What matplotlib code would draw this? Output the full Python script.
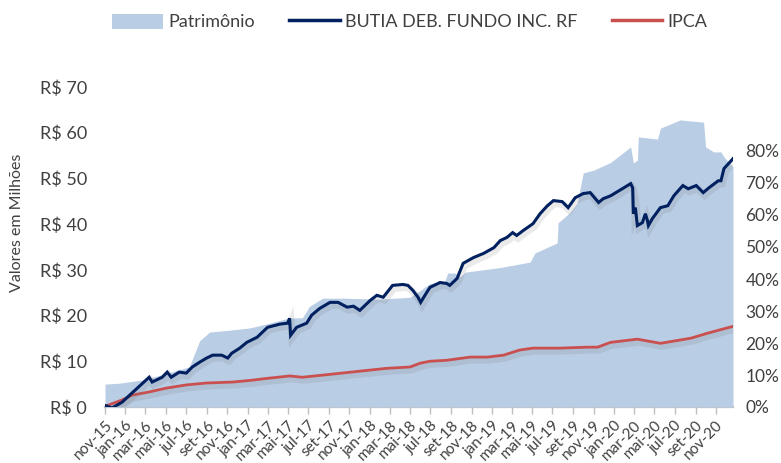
import matplotlib
matplotlib.use("Agg")
import matplotlib.pyplot as plt
import matplotlib.patheffects as pe
from matplotlib.patches import Patch
from matplotlib.lines import Line2D
import pandas as pd

plt.rcParams['font.family'] = ['Lato', 'DejaVu Sans']

# ---------------- data ----------------
patrimonio_dates = [
    "2015-11-01", "2015-12-13", "2016-02-20", "2016-03-12", "2016-05-11",
    "2016-07-10", "2016-07-25", "2016-08-10", "2016-09-09", "2016-11-08",
    "2017-01-07", "2017-02-28", "2017-05-06", "2017-06-13", "2017-07-04",
    "2017-08-13", "2017-10-13", "2018-02-01", "2018-05-01", "2018-06-01",
    "2018-06-30", "2018-08-13", "2018-08-22", "2018-09-13", "2018-09-28",
    "2018-10-13", "2019-01-26", "2019-04-25", "2019-05-10", "2019-07-15",
    "2019-07-18", "2019-08-22", "2019-09-13", "2019-10-01", "2019-11-01",
    "2019-12-22", "2020-02-20", "2020-02-28", "2020-03-11", "2020-03-14",
    "2020-05-10", "2020-05-19", "2020-07-17", "2020-09-25", "2020-10-01",
    "2020-10-25", "2020-11-16", "2020-11-25", "2020-12-22",
]
patrimonio_values = [  # R$ milhões
    5.0, 5.2, 5.9, 6.3, 7.5,
    8.8, 11.5, 14.5, 16.4, 16.8,
    17.3, 18.2, 19.5, 19.5, 22.0,
    23.8, 23.8, 23.6, 24.0, 25.5,
    27.0, 27.5, 29.3, 29.3, 28.5,
    29.5, 30.5, 31.7, 33.7, 35.9,
    40.3, 42.5, 44.6, 51.2, 51.8,
    53.5, 56.9, 53.4, 54.0, 59.1,
    58.6, 61.0, 62.8, 62.3, 56.9,
    55.8, 55.8, 54.7, 52.5,
]

fundo_dates = [
    "2015-11-01", "2015-11-22", "2015-12-22", "2016-01-21", "2016-03-12",
    "2016-03-21", "2016-04-20", "2016-05-05", "2016-05-17", "2016-06-10",
    "2016-07-01", "2016-07-19", "2016-08-10", "2016-08-31", "2016-09-18",
    "2016-10-15", "2016-11-02", "2016-11-14", "2016-12-08", "2016-12-29",
    "2017-01-29", "2017-02-15", "2017-03-01", "2017-04-07", "2017-04-30",
    "2017-05-06", "2017-05-09", "2017-05-27", "2017-06-26", "2017-07-11",
    "2017-08-04", "2017-09-04", "2017-09-28", "2017-10-25", "2017-11-13",
    "2017-12-02", "2018-01-02", "2018-01-22", "2018-02-10", "2018-03-10",
    "2018-04-10", "2018-04-25", "2018-05-10", "2018-05-25", "2018-06-02",
    "2018-06-20", "2018-06-30", "2018-07-30", "2018-08-19", "2018-08-28",
    "2018-09-19", "2018-10-07", "2018-11-07", "2018-12-07", "2019-01-07",
    "2019-01-26", "2019-02-15", "2019-03-04", "2019-03-16", "2019-04-04",
    "2019-05-04", "2019-05-25", "2019-06-16", "2019-07-04", "2019-07-30",
    "2019-08-17", "2019-09-07", "2019-10-01", "2019-10-22", "2019-11-16",
    "2019-11-30", "2019-12-22", "2020-01-21", "2020-02-20", "2020-02-26",
    "2020-02-28", "2020-03-05", "2020-03-11", "2020-03-26", "2020-04-04",
    "2020-04-10", "2020-04-13", "2020-04-25", "2020-05-19", "2020-06-10",
    "2020-06-28", "2020-07-25", "2020-08-10", "2020-09-03", "2020-09-24",
    "2020-10-11", "2020-11-08", "2020-11-16", "2020-11-25", "2020-12-22",
]
fundo_values = [  # rentabilidade acumulada, %
    0.5, -0.3, 1.5, 4.4, 9.3,
    7.8, 9.3, 10.9, 9.3, 10.9,
    10.6, 12.5, 14.0, 15.3, 16.2,
    16.2, 15.3, 16.8, 18.4, 20.2,
    21.8, 23.5, 24.9, 25.9, 26.2,
    27.7, 22.4, 24.9, 26.2, 28.7,
    30.8, 32.7, 32.7, 31.2, 31.5,
    30.2, 33.3, 34.9, 34.3, 38.0,
    38.3, 38.0, 36.4, 34.3, 32.7,
    35.8, 37.4, 38.9, 38.6, 38.0,
    40.2, 44.9, 46.7, 48.0, 49.8,
    52.0, 53.0, 54.5, 53.6, 55.1,
    57.3, 60.4, 62.9, 64.5, 64.2,
    62.3, 65.4, 66.7, 67.0, 63.9,
    65.1, 66.0, 67.9, 69.8, 68.5,
    60.4, 62.3, 56.7, 57.6, 60.4,
    58.3, 56.7, 58.9, 62.3, 62.9,
    66.0, 69.2, 68.2, 69.2, 67.0,
    68.5, 70.7, 70.7, 74.5, 77.6,
]

ipca_dates = [
    "2015-11-01", "2015-12-22", "2016-01-21", "2016-03-12", "2016-05-02",
    "2016-07-01", "2016-08-31", "2016-11-17", "2017-01-16", "2017-02-24",
    "2017-05-06", "2017-06-13", "2017-09-13", "2017-12-02", "2018-02-22",
    "2018-05-01", "2018-06-01", "2018-06-30", "2018-08-19", "2018-10-28",
    "2018-12-19", "2019-02-05", "2019-03-25", "2019-05-04", "2019-07-24",
    "2019-10-13", "2019-11-13", "2019-12-22", "2020-03-11", "2020-05-19",
    "2020-08-18", "2020-10-08", "2020-12-22",
]
ipca_values = [  # IPCA acumulado, %
    0.2, 2.2, 3.7, 4.7, 5.9,
    6.9, 7.5, 7.8, 8.4, 8.9,
    9.7, 9.3, 10.3, 11.2, 12.1,
    12.5, 13.7, 14.3, 14.6, 15.6,
    15.6, 16.2, 17.8, 18.4, 18.4,
    18.7, 18.7, 20.2, 21.2, 19.9,
    21.5, 23.1, 25.2,
]

series_labels = ["Patrimônio", "BUTIA DEB. FUNDO INC. RF", "IPCA"]
left_ticks = [0, 10, 20, 30, 40, 50, 60, 70]
right_ticks = [0, 10, 20, 30, 40, 50, 60, 70, 80]
meses_pt = ["jan", "fev", "mar", "abr", "mai", "jun",
            "jul", "ago", "set", "out", "nov", "dez"]
x_tick_start, x_tick_end = "2015-11-01", "2020-11-01"
y_label = "Valores em Milhões"

# ---------------- styling ----------------
AREA = "#B9CDE5"
NAVY = "#002060"
RED = "#C9504F"
TXT = "#404040"
AXIS = "#BFBFBF"

fig = plt.figure(figsize=(7.81, 4.63), dpi=100)
ax = fig.add_axes([105 / 781, 1 - 407 / 463, 628 / 781, 320 / 463])
ax2 = ax.twinx()

pdates = pd.to_datetime(patrimonio_dates)
fdates = pd.to_datetime(fundo_dates)
idates = pd.to_datetime(ipca_dates)

ax.fill_between(pdates, 0, patrimonio_values, color=AREA, lw=0, zorder=1)

shadow = [pe.SimpleLineShadow(offset=(1.0, -2.2), shadow_color="#707070",
                              alpha=0.14, linewidth=5), pe.Normal()]
ax2.plot(idates, [v / 100 for v in ipca_values], color=RED, lw=2.0,
         solid_capstyle="round", path_effects=shadow, zorder=3)
ax2.plot(fdates, [v / 100 for v in fundo_values], color=NAVY, lw=2.2,
         solid_joinstyle="miter", path_effects=shadow, zorder=4)

ax.set_xlim(pdates[0], pdates[-1])
ax.set_ylim(0, 70)
ax2.set_ylim(0, 1.0)

ax.set_yticks(left_ticks)
ax.set_yticklabels([f"R$ {v}" for v in left_ticks])
ax2.set_yticks([v / 100 for v in right_ticks])
ax2.set_yticklabels([f"{v}%" for v in right_ticks])

xt = pd.date_range(x_tick_start, x_tick_end, freq="2MS")
ax.set_xticks(xt)
ax.set_xticklabels([f"{meses_pt[d.month - 1]}-{d.strftime('%y')}" for d in xt],
                   rotation=45, ha="right", rotation_mode="anchor")

for a in (ax, ax2):
    for s in a.spines.values():
        s.set_visible(False)
ax.spines["bottom"].set_visible(True)
ax.spines["bottom"].set_color(AXIS)
ax.spines["bottom"].set_linewidth(1.6)
ax.spines["bottom"].set_zorder(0.5)

ax.tick_params(axis="x", direction="out", length=5, width=1, color=AXIS,
               labelsize=11, labelcolor=TXT, pad=3)
ax.tick_params(axis="y", length=0, labelsize=13, labelcolor=TXT, pad=13)
ax2.tick_params(axis="y", length=0, labelsize=12.5, labelcolor=TXT, pad=9)

fig.text(17 / 781, 1 - 223 / 463, y_label, rotation=90, ha="center",
         va="center", fontsize=11.5, color=TXT)

handles = [Patch(facecolor=AREA, edgecolor="none"),
           Line2D([], [], color=NAVY, lw=2.5),
           Line2D([], [], color=RED, lw=2.5)]
fig.legend(handles, series_labels, loc="center", bbox_to_anchor=(410 / 781, 1 - 22 / 463),
           ncol=3, frameon=False, fontsize=13, handlelength=2.8, handleheight=0.9,
           columnspacing=1.9, handletextpad=0.3, labelcolor=TXT)

fig.savefig("out.png", dpi=100)
